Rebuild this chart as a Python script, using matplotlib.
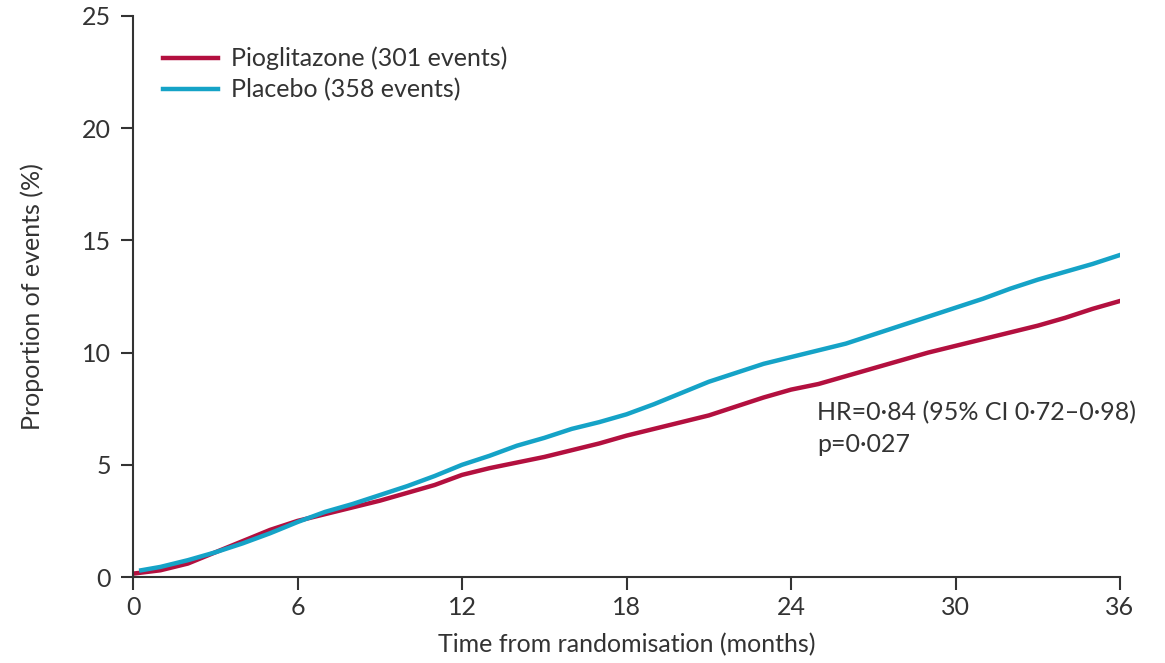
import numpy as np
import matplotlib.pyplot as plt

# months from randomisation
months_pio = [0, 1, 2, 3, 4, 5, 6, 7, 8, 9, 10, 11, 12, 13, 14, 15, 16, 17, 18,
              19, 20, 21, 22, 23, 24, 25, 26, 27, 28, 29, 30, 31, 32, 33, 34, 35, 36]
pio = [0.15, 0.3, 0.6, 1.1, 1.6, 2.1, 2.5, 2.8, 3.1, 3.4, 3.75, 4.1, 4.55, 4.85, 5.1,
       5.35, 5.65, 5.95, 6.3, 6.6, 6.9, 7.2, 7.6, 8.0, 8.35, 8.6, 8.95, 9.3, 9.65,
       10.0, 10.3, 10.6, 10.9, 11.2, 11.55, 11.95, 12.3]

months_pla = [0.3, 1, 2, 3, 4, 5, 6, 7, 8, 9, 10, 11, 12, 13, 14, 15, 16, 17, 18,
              19, 20, 21, 22, 23, 24, 25, 26, 27, 28, 29, 30, 31, 32, 33, 34, 35, 36]
pla = [0.3, 0.45, 0.75, 1.1, 1.5, 1.95, 2.45, 2.9, 3.25, 3.65, 4.05, 4.5, 5.0, 5.4,
       5.85, 6.2, 6.6, 6.9, 7.25, 7.7, 8.2, 8.7, 9.1, 9.5, 9.8, 10.1, 10.4, 10.8,
       11.2, 11.6, 12.0, 12.4, 12.85, 13.25, 13.6, 13.95, 14.35]

xticks = [0, 6, 12, 18, 24, 30, 36]
yticks = [0, 5, 10, 15, 20, 25]

plt.rcParams['font.family'] = ['Lato', 'DejaVu Sans']
fs = 18

fig = plt.figure(figsize=(11.65, 6.63), dpi=100)
ax = fig.add_axes([0.1142, 0.1297, 0.8472, 0.8462])

red = '#b3103f'
blue = '#15a3c7'
ax.plot(months_pio, pio, color=red, lw=3.2, label='Pioglitazone (301 events)')
ax.plot(months_pla, pla, color=blue, lw=3.2, label='Placebo (358 events)')

ax.set_xlim(0, 36)
ax.set_ylim(0, 25)
ax.set_xticks(xticks)
ax.set_yticks(yticks)
for s in ['top', 'right']:
    ax.spines[s].set_visible(False)
for s in ['left', 'bottom']:
    ax.spines[s].set_color('#333333')
    ax.spines[s].set_linewidth(1.5)
ax.tick_params(direction='out', length=9, width=1.5, color='#333333',
               labelcolor='#333333', labelsize=fs)
ax.tick_params(axis='y', pad=7)
ax.tick_params(axis='x', pad=5)

ax.set_xlabel('Time from randomisation (months)', color='#333333', fontsize=fs, labelpad=10)
ax.set_ylabel('Proportion of events (%)', color='#333333', fontsize=fs, labelpad=27)

leg = ax.legend(loc='upper left', bbox_to_anchor=(0.008, 0.985), frameon=False,
                handlelength=2.2, handletextpad=0.52, labelspacing=0.3, fontsize=fs)
for t in leg.get_texts():
    t.set_color('#333333')

ax.text(24.95, 6.6, 'HR=0·84 (95% CI 0·72–0·98)\np=0·027', color='#333333',
        fontsize=fs, va='center', ha='left', linespacing=1.45)

fig.savefig('out.png', dpi=100)
